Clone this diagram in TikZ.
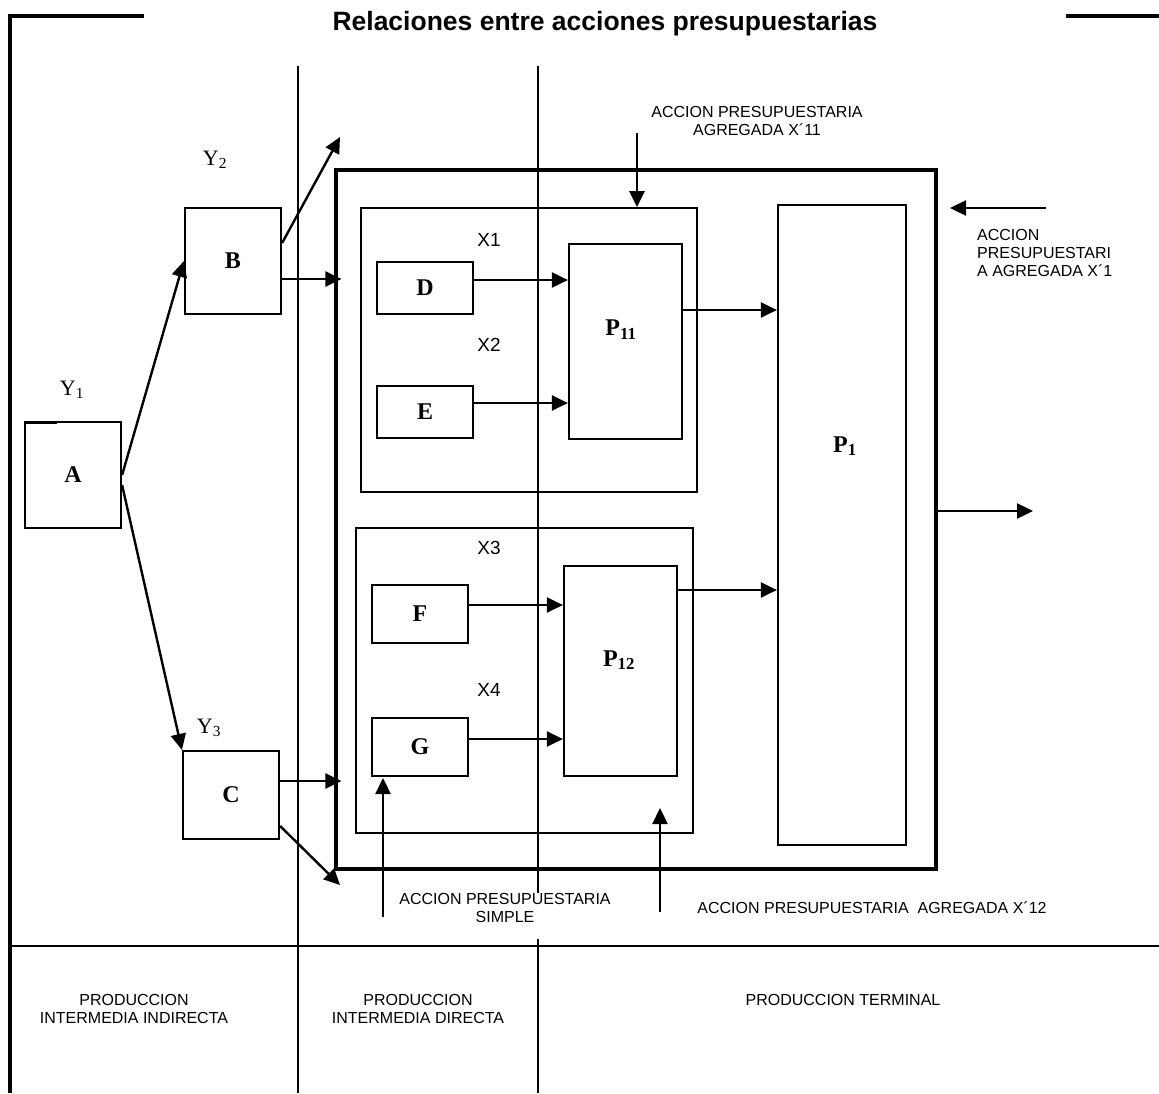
\documentclass[tikz,border=0pt]{standalone}
\usepackage{fontspec}
\setmainfont{Liberation Sans}
\newfontfamily\serifrm{Liberation Serif}
\usetikzlibrary{arrows.meta}
\begin{document}
\begin{tikzpicture}[x=1pt,y=-1pt,
  frame/.style={line width=3.5pt},
  divider/.style={line width=1.8pt},
  bigbox/.style={draw, line width=3.2pt, inner sep=0pt},
  grpbox/.style={draw, line width=1.8pt, inner sep=0pt},
  box/.style={draw, line width=2.2pt, inner sep=0pt, font=\serifrm\bfseries\fontsize{24}{26}\selectfont},
  lbl/.style={font=\fontsize{16}{18}\selectfont, align=center, inner sep=0pt},
  xlbl/.style={font=\fontsize{19}{21}\selectfont, inner sep=0pt},
  ylbl/.style={font=\serifrm\fontsize{22}{24}\selectfont, inner sep=0pt},
  plbl/.style={font=\serifrm\bfseries\fontsize{24}{26}\selectfont, inner sep=0pt},
  arr/.style={line width=2.4pt, -{Triangle[length=16pt,width=15pt]}},
]
\useasboundingbox (0,0) rectangle (1159,1093);
% outer frame
\draw[frame] (144,16) -- (10,16) -- (10,1093);
\draw[frame] (1066,16) -- (1159,16);
\node[font=\bfseries\fontsize{26.5}{28}\selectfont, inner sep=0pt] (title) at (605,24) {Relaciones entre acciones presupuestarias};
% column dividers
\draw[divider] (298,66) -- (298,1093);
\draw[divider] (538,66) -- (538,893);
\draw[divider] (538,939) -- (538,1093);
\draw[divider] (10,946) -- (1159,946);
% big box and groups
\node[bigbox, minimum width=600pt, minimum height=699pt] (Big) at (636,519.5) {};
\node[grpbox, minimum width=336pt, minimum height=284pt] (G1) at (529,350) {};
\node[grpbox, minimum width=337pt, minimum height=305pt] (G2) at (524.5,680.5) {};
% boxes
\node[box, minimum width=96pt, minimum height=106pt] (A) at (73,475) {A};
\draw[line width=3.2pt] (24,422.5) -- (57,422.5);
\node[box, minimum width=96pt, minimum height=106pt] (B) at (233,261) {B};
\node[box, minimum width=96pt, minimum height=88pt] (C) at (231,795) {\raisebox{-8pt}{C}};
\node[box, minimum width=96pt, minimum height=52pt] (D) at (425,288) {D};
\node[box, minimum width=96pt, minimum height=52pt] (E) at (425,412) {E};
\node[box, minimum width=96pt, minimum height=58pt] (F) at (420,614) {F};
\node[box, minimum width=96pt, minimum height=58pt] (G) at (420,747) {G};
\node[box, minimum width=113pt, minimum height=195pt] (P11) at (625.5,341.5) {};
\node[box, minimum width=113pt, minimum height=210pt] (P12) at (620.5,671) {};
\node[box, minimum width=128pt, minimum height=640pt] (P1) at (842,525) {};
\node[plbl] (P11l) at (621,330) {P\textsubscript{11}};
\node[plbl] (P12l) at (619,660) {P\textsubscript{12}};
\node[plbl] (P1l) at (845,446) {P\textsubscript{1}};
% Y and X labels
\node[ylbl] (Y1) at (72,390) {Y\textsubscript{1}};
\node[ylbl] (Y2) at (215,160) {Y\textsubscript{2}};
\node[ylbl] (Y3) at (209,728) {Y\textsubscript{3}};
\node[xlbl] (X1) at (489,240) {X1};
\node[xlbl] (X2) at (489,345) {X2};
\node[xlbl] (X3) at (489,548) {X3};
\node[xlbl] (X4) at (489,690) {X4};
% connectors
\draw[arr] (A.east) -- (B.west);
\draw[arr] ([yshift=-10pt]A.east) -- (C.north west);
\coordinate (Bup) at (340,137);
\draw[arr] ([yshift=18pt]B.east) -- (Bup);
\draw[arr, shorten >=-7pt] ([yshift=-18pt]B.east) -- ([yshift=-18pt]B.east -| Big.west);
\draw[arr, shorten >=-7pt] ([yshift=14pt]C.east) -- ([yshift=14pt]C.east -| Big.west);
\coordinate (Cdn) at (340,885);
\draw[arr] ([yshift=-31pt]C.east) -- (Cdn);
\draw[arr] ([yshift=8pt]D.east) -- ([yshift=8pt]D.east -| P11.west);
\draw[arr] ([yshift=9pt]E.east) -- ([yshift=9pt]E.east -| P11.west);
\draw[arr] ([yshift=9pt]F.east) -- ([yshift=9pt]F.east -| P12.west);
\draw[arr] ([yshift=8pt]G.east) -- ([yshift=8pt]G.east -| P12.west);
\draw[arr] ([yshift=31.5pt]P11.east) -- ([yshift=31.5pt]P11.east -| P1.west);
\draw[arr] ([yshift=81pt]P12.east) -- ([yshift=81pt]P12.east -| P1.west);
\coordinate (P1out) at (1033,511);
\draw[arr] (Big.east |- P1out) -- (P1out);
\coordinate (topin) at (637,133);
\draw[arr] (topin) -- (topin |- G1.north);
\coordinate (rin) at (1046,208);
\coordinate (rtip) at (950,208);
\draw[arr] (rin) -- (rtip);
\coordinate (upLs) at (383,917);
\coordinate (upLt) at (383,778);
\draw[arr] (upLs) -- (upLt);
\coordinate (upRs) at (660,912);
\coordinate (upRt) at (660,808);
\draw[arr] (upRs) -- (upRt);
% text labels
\node[lbl] (t11) at (757,121) {ACCION PRESUPUESTARIA\\AGREGADA X´11};
\node[lbl, align=left, anchor=north west] (t1) at (977,229) {ACCION\\PRESUPUESTARI\\A AGREGADA X´1};
\node[lbl] (tsimple) at (505,908) {ACCION PRESUPUESTARIA\\SIMPLE};
\node[lbl] (t12) at (872,908) {ACCION PRESUPUESTARIA\ \ AGREGADA X´12};
\node[lbl] (pii) at (134,1009) {PRODUCCION\\INTERMEDIA INDIRECTA};
\node[lbl] (pid) at (418,1009) {PRODUCCION\\INTERMEDIA DIRECTA};
\node[lbl] (pt) at (843,1000) {PRODUCCION TERMINAL};
\end{tikzpicture}
\end{document}
